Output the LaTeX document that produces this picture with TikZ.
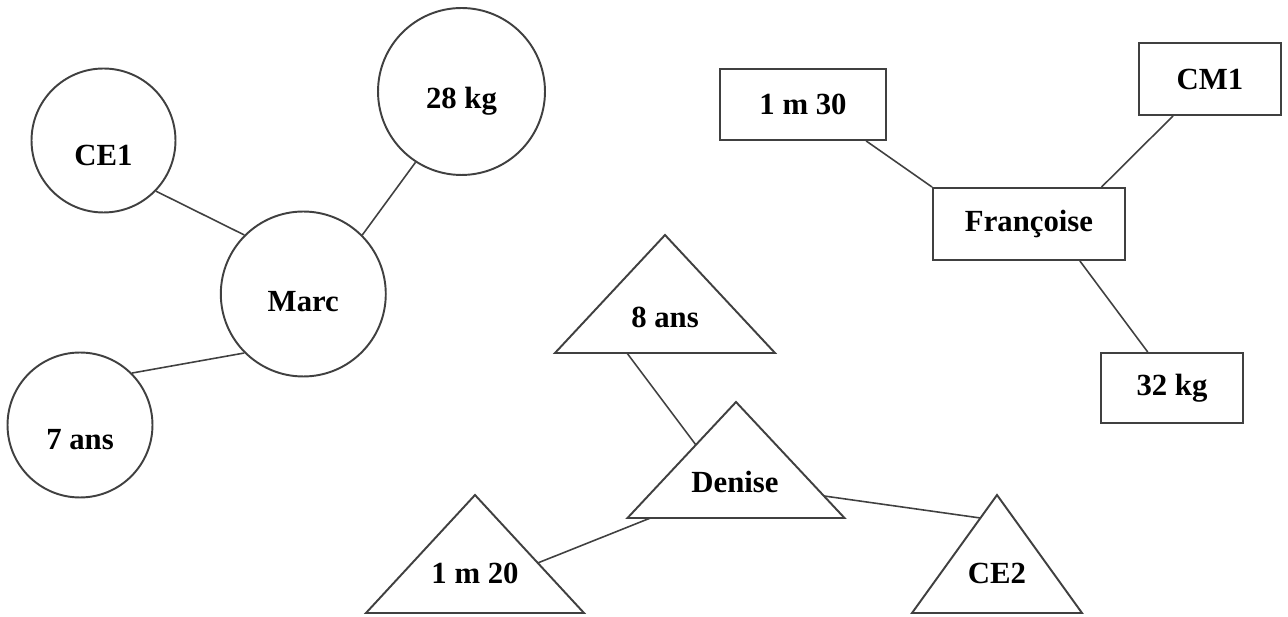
\documentclass[tikz,border=0pt]{standalone}
\usepackage{fontspec}
\setmainfont{Liberation Serif}
\usetikzlibrary{calc}

\begin{document}
\begin{tikzpicture}[x=0.02cm, y=-0.02cm,
every node/.style = {font=\bfseries\fontsize{17.5}{20}\selectfont},
bubble/.style = {circle, draw=black!75, line width=1.1pt, inner sep=0pt,
                 text depth=0pt, minimum size=#1},
card/.style = {rectangle, draw=black!75, line width=1.1pt, inner sep=0pt},
tri/.style = {draw=black!75, line width=1.1pt, line join=miter},
link/.style = {draw=black!75, line width=0.9pt}]
\useasboundingbox (0,0) rectangle (1288,617);
% Marc
\node[bubble=2.88cm, text height=0.99cm] (ce1) at (103.5,140.5) {CE1};
\node[bubble=3.34cm, text height=0.69cm] (kg28) at (461.5,91.5) {28 kg};
\node[bubble=3.30cm, text height=0.69cm] (marc) at (303.3,294) {Marc};
\node[bubble=2.90cm, text height=0.99cm] (ans7) at (80,425) {7 ans};
\draw[link] (ce1.-44) -- (marc.135);
\draw[link] (kg28.237) -- (marc.45);
\draw[link] (ans7.45) -- (marc.225);
% Françoise
\node[card, minimum width=3.32cm, minimum height=1.42cm] (m130) at (803,104.5) {1 m 30};
\node[card, minimum width=2.84cm, minimum height=1.44cm] (cm1) at (1210,79) {CM1};
\node[card, minimum width=3.84cm, minimum height=1.44cm] (fran) at (1029,224) {Françoise};
\node[card, minimum width=2.84cm, minimum height=1.40cm] (kg32) at (1172,388) {32 kg};
\draw[link] (m130.-30) -- (fran.north west);
\draw[link] (cm1.225) -- (fran.27);
\draw[link] (fran.-36) -- (kg32.124);
% Denise
\foreach \n/\x/\y/\w/\h in {a8/665/235/110/118, den/736/402/108.5/116,
                            m120/475/495/109/118, ce2/997/495/85/118}{
  \coordinate (\n-t) at (\x,\y);
  \coordinate (\n-l) at (\x-\w,\y+\h);
  \coordinate (\n-r) at (\x+\w,\y+\h);
  \draw[tri] (\n-l) -- (\n-t) -- (\n-r) -- cycle;
}
\node (a8) at (665,317) {8 ans};
\node (den) at (735,482) {Denise};
\node (m120) at (475,573) {1 m 20};
\node (ce2) at (997,573) {CE2};
\draw[link] ($(a8-l)!0.327!(a8-r)$) -- ($(den-l)!0.63!(den-t)$);
\draw[link] ($(den-l)!0.106!(den-r)$) -- ($(m120-t)!0.576!(m120-r)$);
\draw[link] ($(den-t)!0.81!(den-r)$) -- ($(ce2-t)!0.195!(ce2-l)$);
\end{tikzpicture}
\end{document}
